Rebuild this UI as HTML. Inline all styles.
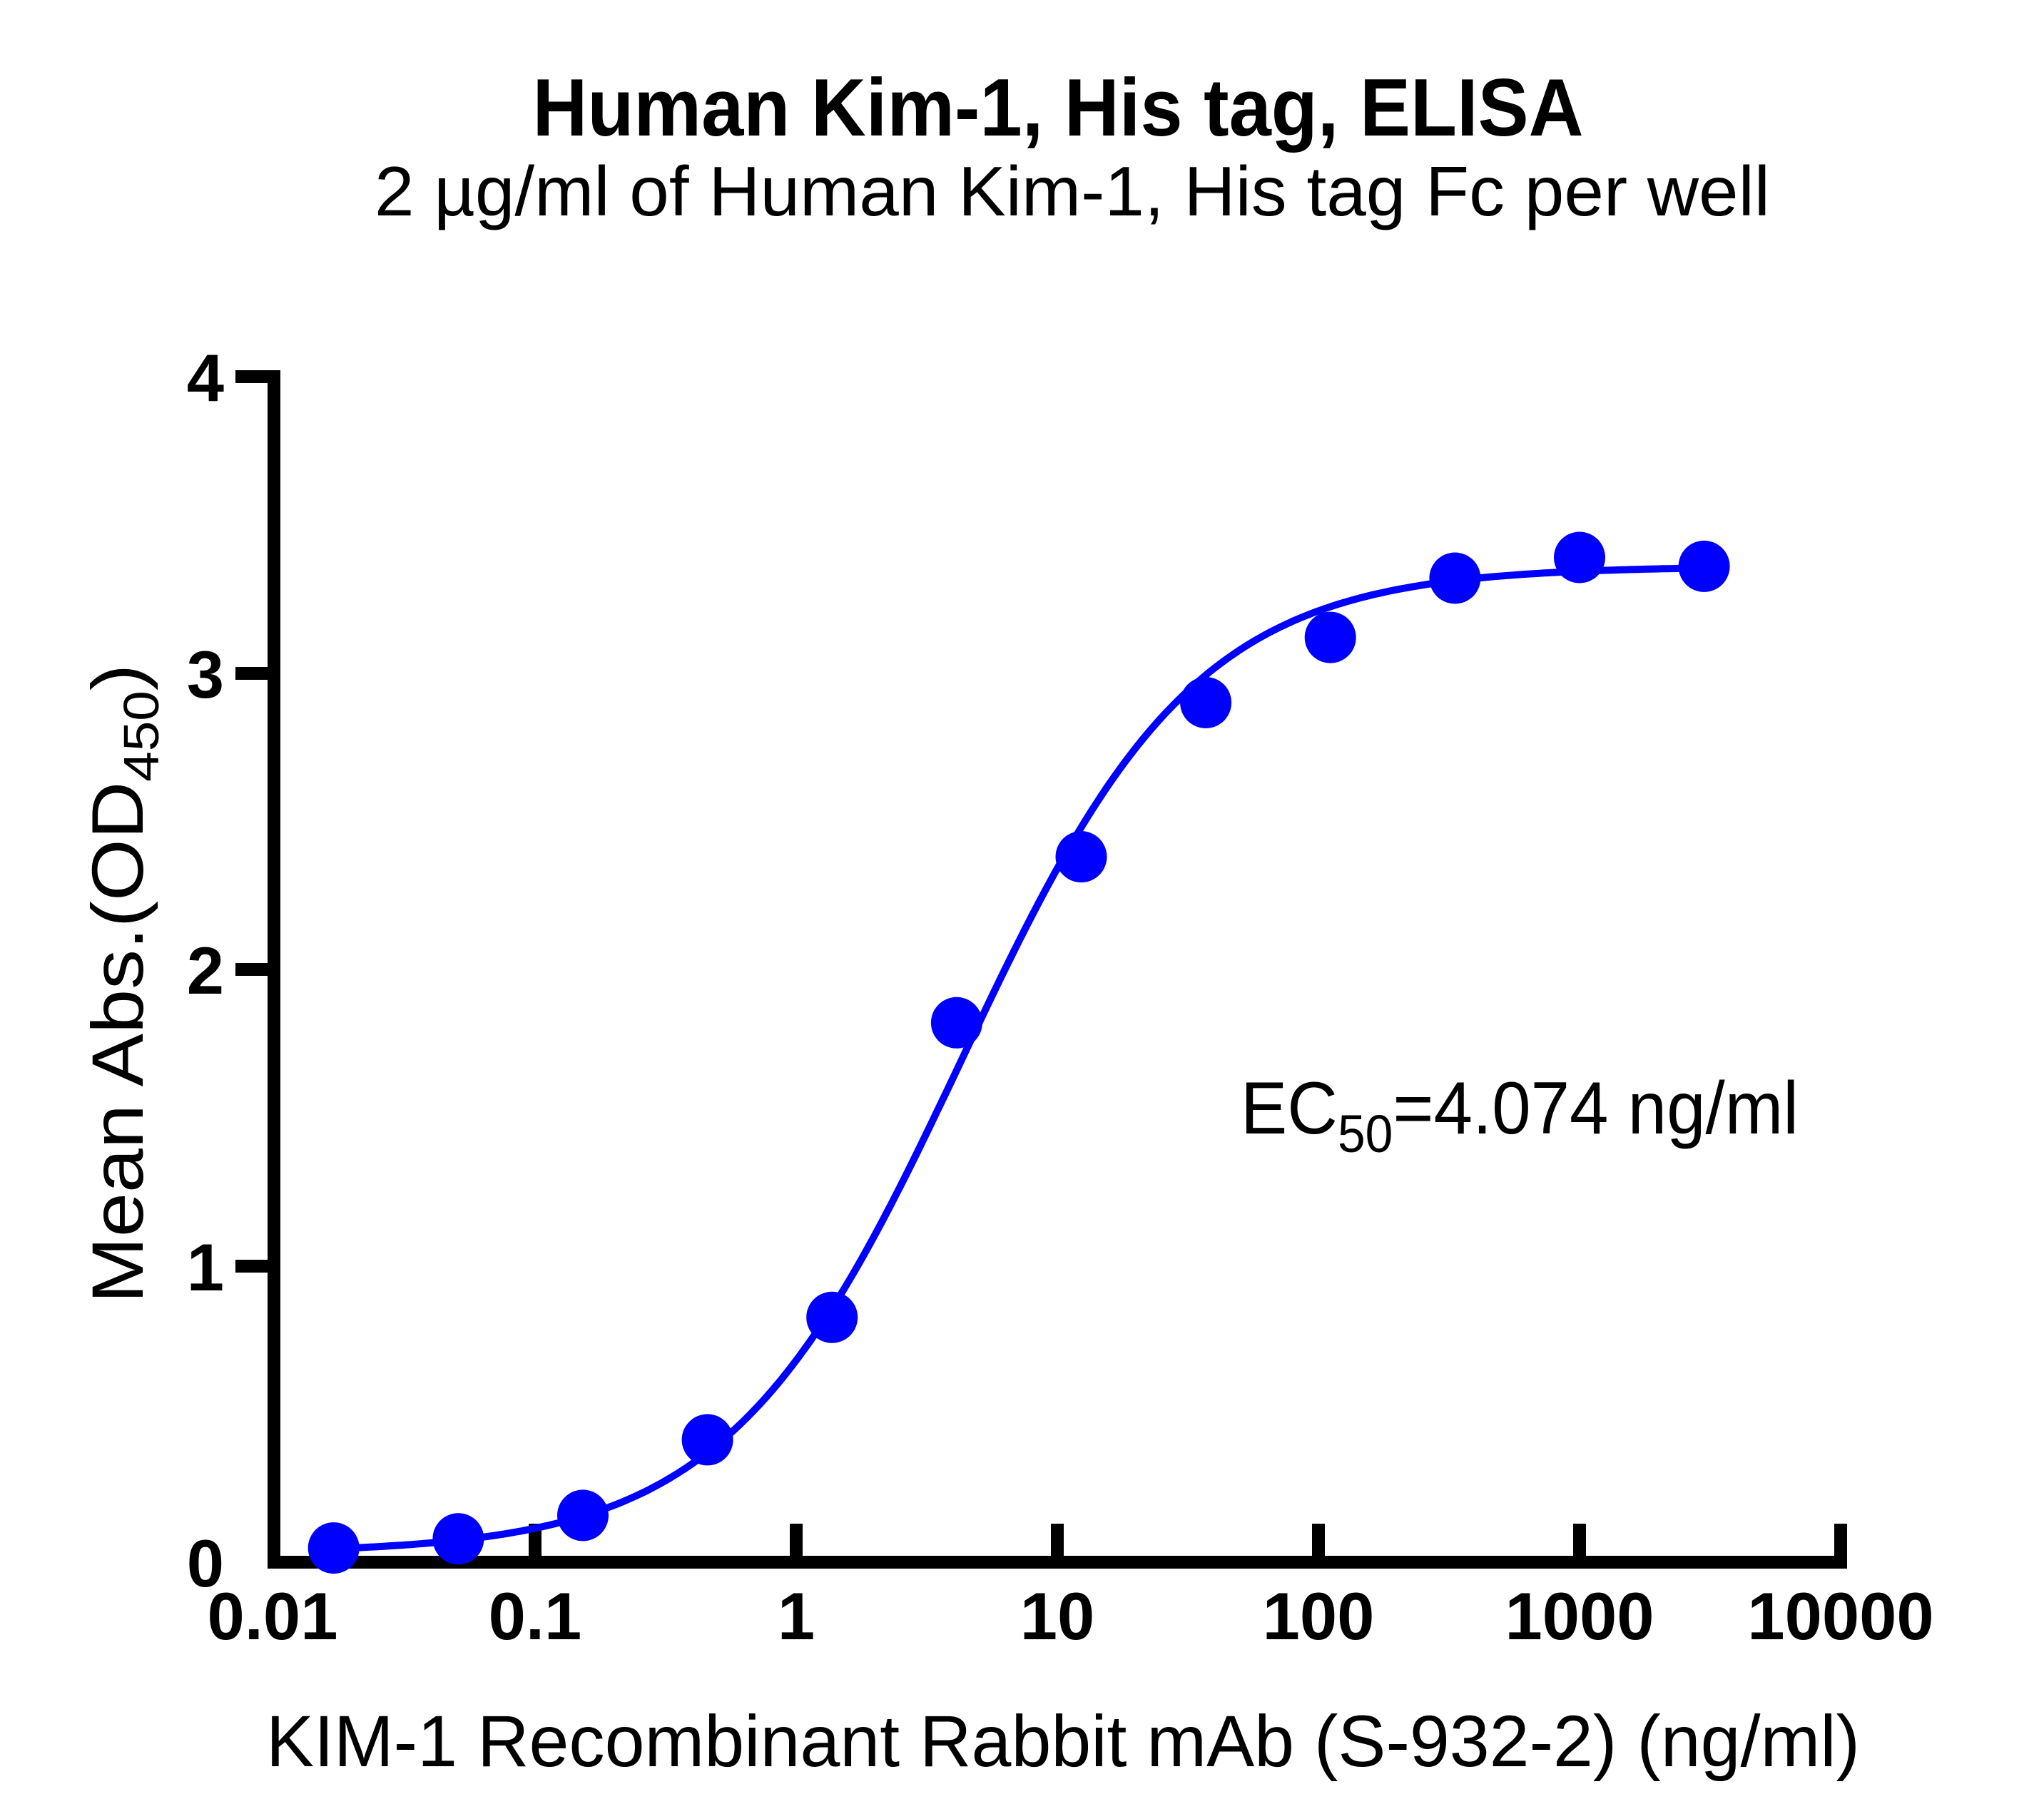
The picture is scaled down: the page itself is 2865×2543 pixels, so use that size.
<!DOCTYPE html>
<html><head><meta charset="utf-8"><style>body{margin:0;background:#fff}svg{display:block}</style></head>
<body>
<svg id="s" width="2865" height="2543" xmlns="http://www.w3.org/2000/svg" font-family="Liberation Sans, Arial, sans-serif">
<rect width="2865" height="2543" fill="#fff"/>
<text x="1483" y="190" font-size="114" font-weight="bold" text-anchor="middle" textLength="1473" lengthAdjust="spacingAndGlyphs">Human Kim-1, His tag, ELISA</text>
<text x="1503" y="302" font-size="98" text-anchor="middle" textLength="1956" lengthAdjust="spacingAndGlyphs">2 µg/ml of Human Kim-1, His tag Fc per well</text>
<g stroke="#000" stroke-width="18" fill="none">
<path d="M330 528 H384 V2190 H2580 V2136"/>
<path d="M330 1775 H384 M330 1359 H384 M330 944 H384"/>
<path d="M384 2190 V2136 M750 2190 V2136 M1116 2190 V2136 M1482 2190 V2136 M1848 2190 V2136 M2214 2190 V2136"/>
</g>
<g font-size="94" font-weight="bold" text-anchor="end">
<text x="314" y="2224">0</text><text x="314" y="1809">1</text><text x="314" y="1393">2</text><text x="314" y="978">3</text><text x="314" y="562">4</text>
</g>
<g font-size="94" font-weight="bold" text-anchor="middle">
<text x="382" y="2298">0.01</text><text x="750" y="2298">0.1</text><text x="1116" y="2298">1</text><text x="1482" y="2298">10</text><text x="1848" y="2298">100</text><text x="2214" y="2298">1000</text><text x="2580" y="2298">10000</text>
</g>
<text x="1490" y="2476" font-size="102" text-anchor="middle" textLength="2234" lengthAdjust="spacingAndGlyphs">KIM-1 Recombinant Rabbit mAb (S-932-2) (ng/ml)</text>
<text transform="translate(200,1379) rotate(-90)" font-size="102" text-anchor="middle" textLength="896" lengthAdjust="spacingAndGlyphs">Mean Abs.(OD<tspan font-size="70" dy="22">450</tspan><tspan dy="-22">)</tspan></text>
<text x="1739" y="1589" font-size="104" textLength="782" lengthAdjust="spacingAndGlyphs">EC<tspan font-size="74" dy="26">50</tspan><tspan dy="-26">=4.074 ng/ml</tspan></text>
<path id="curve" fill="none" stroke="#0000ff" stroke-width="10"/>
<g id="pts" fill="#0000ff"></g>
</svg>
<script>
function X(c){return 384+366*(Math.log10(c)+2);}
function Y(v){return 2190-415.5*v;}
var d="";
for(var i=0;i<=300;i++){var lc=Math.log10(0.0169)+i/300*(Math.log10(3000)-Math.log10(0.0169));var c=Math.pow(10,lc);
var v=0.03+3.33/(1+Math.pow(4.3/c,0.97));d+=(i?"L":"M")+X(c).toFixed(1)+" "+Y(v).toFixed(1);}
document.getElementById("curve").setAttribute("d",d);
var ys=[0.048,0.079,0.158,0.413,0.826,1.82,2.38,2.90,3.12,3.32,3.39,3.36];
var g=document.getElementById("pts"),s="";
for(var k=0;k<12;k++){var c=3000/Math.pow(3,11-k);s+='<circle cx="'+X(c).toFixed(1)+'" cy="'+Y(ys[k]).toFixed(1)+'" r="36"/>';}
g.innerHTML=s;
</script>
</body></html>
